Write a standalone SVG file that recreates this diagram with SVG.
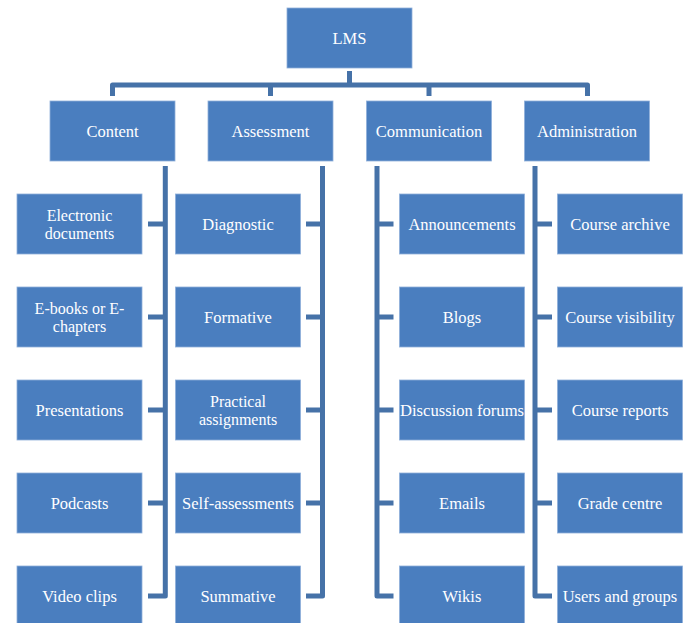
<svg xmlns="http://www.w3.org/2000/svg" width="692" height="623" viewBox="0 0 692 623">
<defs>
<style>
.box{fill:#4A7EBF;stroke:#8FB0DA;stroke-width:0.8}
.t{font-family:"Liberation Serif","Times New Roman",serif;font-size:16.5px;fill:#FFFFFF;text-anchor:middle;dominant-baseline:central}
.t2{font-size:16px}
.c{fill:none;stroke:#4672A8;stroke-width:5;stroke-linejoin:round;stroke-linecap:butt}
</style>
</defs>
<rect width="692" height="623" fill="#FFFFFF"/>
<g id="connectors">
<path class="c" d="M349.5,71 V85"/>
<path class="c" d="M112.5,96 V85 H587.5 V96"/>
<path class="c" d="M270.5,85 V96"/>
<path class="c" d="M429,85 V96"/>
<path class="c" d="M165.3,166 V596 H148"/>
<path class="c" d="M165.3,224 H148 M165.3,317 H148 M165.3,410 H148 M165.3,503 H148"/>
<path class="c" d="M322.5,166 V596 H306"/>
<path class="c" d="M322.5,224 H306 M322.5,317 H306 M322.5,410 H306 M322.5,503 H306"/>
<path class="c" d="M377,166 V596 H393.5"/>
<path class="c" d="M377,224 H393.5 M377,317 H393.5 M377,410 H393.5 M377,503 H393.5"/>
<path class="c" d="M535,166 V596 H552"/>
<path class="c" d="M535,224 H552 M535,317 H552 M535,410 H552 M535,503 H552"/>
</g>
<g id="lms"><rect class="box" x="287" y="8" width="125" height="60"/><text class="t" x="349.5" y="38">LMS</text></g>
<g id="content"><rect class="box" x="50" y="101" width="125" height="60"/><text class="t" x="112.5" y="131">Content</text></g>
<g id="assessment"><rect class="box" x="208" y="101" width="125" height="60"/><text class="t" x="270.5" y="131">Assessment</text></g>
<g id="communication"><rect class="box" x="366.5" y="101" width="125" height="60"/><text class="t" x="429" y="131">Communication</text></g>
<g id="administration"><rect class="box" x="524.5" y="101" width="125" height="60"/><text class="t" x="587" y="131">Administration</text></g>

<g id="electronic-documents"><rect class="box" x="17" y="194" width="125" height="60"/><text class="t t2" x="79.5" y="215">Electronic</text><text class="t t2" x="79.5" y="233">documents</text></g>
<g id="ebooks"><rect class="box" x="17" y="287" width="125" height="60"/><text class="t t2" x="79.5" y="308">E-books or E-</text><text class="t t2" x="79.5" y="326">chapters</text></g>
<g id="presentations"><rect class="box" x="17" y="380" width="125" height="60"/><text class="t" x="79.5" y="410">Presentations</text></g>
<g id="podcasts"><rect class="box" x="17" y="473" width="125" height="60"/><text class="t" x="79.5" y="503">Podcasts</text></g>
<g id="video-clips"><rect class="box" x="17" y="566" width="125" height="60"/><text class="t" x="79.5" y="596">Video clips</text></g>

<g id="diagnostic"><rect class="box" x="175.5" y="194" width="125" height="60"/><text class="t" x="238" y="224">Diagnostic</text></g>
<g id="formative"><rect class="box" x="175.5" y="287" width="125" height="60"/><text class="t" x="238" y="317">Formative</text></g>
<g id="practical-assignments"><rect class="box" x="175.5" y="380" width="125" height="60"/><text class="t t2" x="238" y="401">Practical</text><text class="t t2" x="238" y="419">assignments</text></g>
<g id="self-assessments"><rect class="box" x="175.5" y="473" width="125" height="60"/><text class="t" x="238" y="503">Self-assessments</text></g>
<g id="summative"><rect class="box" x="175.5" y="566" width="125" height="60"/><text class="t" x="238" y="596">Summative</text></g>

<g id="announcements"><rect class="box" x="399.5" y="194" width="125" height="60"/><text class="t" x="462" y="224">Announcements</text></g>
<g id="blogs"><rect class="box" x="399.5" y="287" width="125" height="60"/><text class="t" x="462" y="317">Blogs</text></g>
<g id="discussion-forums"><rect class="box" x="399.5" y="380" width="125" height="60"/><text class="t" x="462" y="410" textLength="124" lengthAdjust="spacingAndGlyphs">Discussion forums</text></g>
<g id="emails"><rect class="box" x="399.5" y="473" width="125" height="60"/><text class="t" x="462" y="503">Emails</text></g>
<g id="wikis"><rect class="box" x="399.5" y="566" width="125" height="60"/><text class="t" x="462" y="596">Wikis</text></g>

<g id="course-archive"><rect class="box" x="557.5" y="194" width="125" height="60"/><text class="t" x="620" y="224">Course archive</text></g>
<g id="course-visibility"><rect class="box" x="557.5" y="287" width="125" height="60"/><text class="t" x="620" y="317">Course visibility</text></g>
<g id="course-reports"><rect class="box" x="557.5" y="380" width="125" height="60"/><text class="t" x="620" y="410">Course reports</text></g>
<g id="grade-centre"><rect class="box" x="557.5" y="473" width="125" height="60"/><text class="t" x="620" y="503">Grade centre</text></g>
<g id="users-and-groups"><rect class="box" x="557.5" y="566" width="125" height="60"/><text class="t" x="620" y="596">Users and groups</text></g>
</svg>
